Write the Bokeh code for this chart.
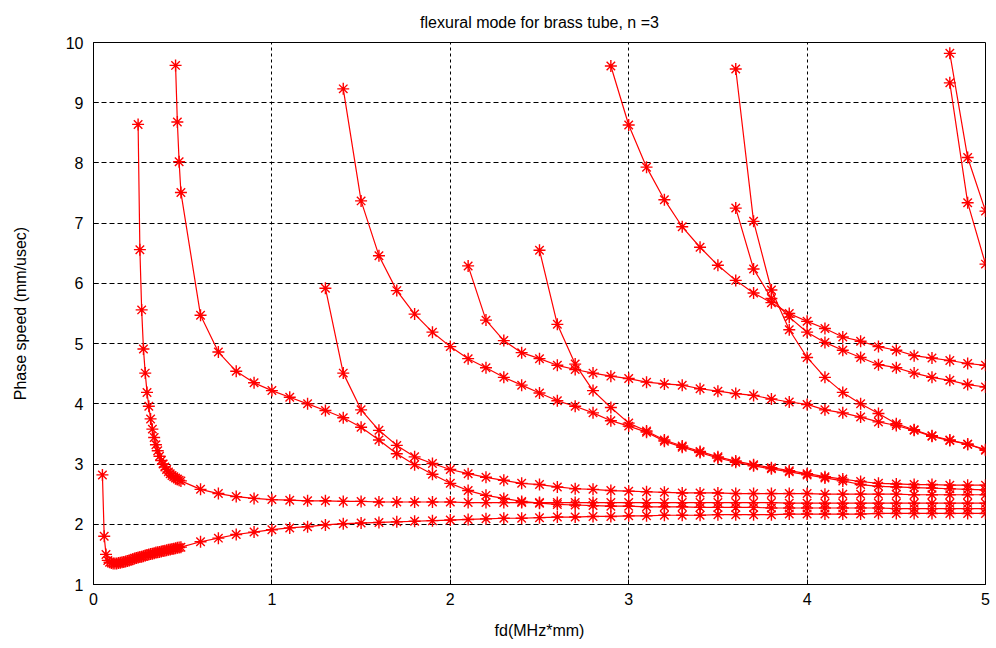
from bokeh.plotting import figure
from bokeh.models import FixedTicker, Range1d
from bokeh.embed import file_html
from bokeh.resources import INLINE

# ---------------- data ----------------
FD_FINE_M1 = [0.05, 0.06, 0.07, 0.08, 0.09, 0.10, 0.11, 0.12, 0.13, 0.14,
              0.15, 0.16, 0.17, 0.18, 0.19, 0.20, 0.21, 0.22, 0.23, 0.24,
              0.25, 0.26, 0.27, 0.28, 0.29, 0.30, 0.31, 0.32, 0.33, 0.34,
              0.35, 0.36, 0.37, 0.38, 0.39, 0.40, 0.41, 0.42, 0.43, 0.44,
              0.45, 0.46, 0.47, 0.48, 0.49]
FD_FINE_M2 = [0.25, 0.26, 0.27, 0.28, 0.29, 0.30, 0.31, 0.32, 0.33, 0.34,
              0.35, 0.36, 0.37, 0.38, 0.39, 0.40, 0.41, 0.42, 0.43, 0.44,
              0.45, 0.46, 0.47, 0.48, 0.49]
FD_FINE_M3 = [0.46, 0.47, 0.48, 0.49]
FD_COARSE = [0.6, 0.7, 0.8, 0.9, 1.0, 1.1, 1.2, 1.3, 1.4, 1.5,
             1.6, 1.7, 1.8, 1.9, 2.0, 2.1, 2.2, 2.3, 2.4, 2.5,
             2.6, 2.7, 2.8, 2.9, 3.0, 3.1, 3.2, 3.3, 3.4, 3.5,
             3.6, 3.7, 3.8, 3.9, 4.0, 4.1, 4.2, 4.3, 4.4, 4.5,
             4.6, 4.7, 4.8, 4.9, 5.0]

m1_fine = [2.82, 1.80, 1.50, 1.40, 1.37, 1.355, 1.35, 1.35, 1.35, 1.355,
           1.36, 1.37, 1.375, 1.38, 1.39, 1.40, 1.41, 1.42, 1.43, 1.44,
           1.45, 1.455, 1.46, 1.47, 1.48, 1.49, 1.50, 1.505, 1.51, 1.52,
           1.53, 1.535, 1.54, 1.55, 1.555, 1.56, 1.57, 1.575, 1.58, 1.59,
           1.595, 1.60, 1.61, 1.615, 1.62]
m1_coarse = [1.71, 1.77, 1.83, 1.87, 1.91, 1.94, 1.96, 1.99, 2.01, 2.02,
             2.03, 2.04, 2.05, 2.06, 2.07, 2.08, 2.09, 2.10, 2.10, 2.11,
             2.12, 2.12, 2.13, 2.13, 2.14, 2.14, 2.15, 2.15, 2.15, 2.16,
             2.16, 2.16, 2.16, 2.17, 2.17, 2.17, 2.17, 2.17, 2.18, 2.18,
             2.18, 2.18, 2.18, 2.18, 2.18]

m2_fine = [8.64, 6.56, 5.56, 4.91, 4.51, 4.19, 3.96, 3.75, 3.58, 3.44,
           3.32, 3.22, 3.13, 3.06, 3.00, 2.95, 2.91, 2.87, 2.84, 2.81,
           2.79, 2.77, 2.75, 2.73, 2.72]
m2_coarse = [2.58, 2.51, 2.46, 2.43, 2.41, 2.40, 2.39, 2.39, 2.38, 2.38,
             2.37, 2.37, 2.37, 2.37, 2.37, 2.36, 2.36, 2.36, 2.36, 2.36,
             2.36, 2.36, 2.36, 2.36, 2.36, 2.36, 2.36, 2.36, 2.36, 2.36,
             2.36, 2.36, 2.36, 2.35, 2.35, 2.35, 2.35, 2.35, 2.35, 2.35,
             2.35, 2.35, 2.35, 2.35, 2.35]

m3_fine = [9.62, 8.68, 8.02, 7.51]
m3_coarse = [5.47, 4.86, 4.54, 4.35, 4.22, 4.11, 4.00, 3.89, 3.77, 3.61,
             3.40, 3.17, 2.99, 2.83, 2.68, 2.56, 2.48, 2.43, 2.38, 2.35,
             2.33, 2.32, 2.31, 2.30, 2.30, 2.29, 2.29, 2.29, 2.28, 2.28,
             2.28, 2.28, 2.27, 2.27, 2.27, 2.27, 2.27, 2.27, 2.27, 2.26,
             2.26, 2.26, 2.26, 2.26, 2.26]

# modes that start inside the coarse grid: (first fd, phase speeds)
m4_fd0, m4_v = 1.3, [5.92, 4.51, 3.90, 3.56, 3.31, 3.12, 3.01, 2.91, 2.84, 2.78,
                     2.73, 2.68, 2.66, 2.62, 2.59, 2.58, 2.56, 2.55, 2.54, 2.53,
                     2.52, 2.52, 2.52, 2.51, 2.51, 2.51, 2.51, 2.51, 2.50, 2.50,
                     2.50, 2.50, 2.50, 2.49, 2.49, 2.49, 2.49, 2.49]
m5_fd0, m5_v = 1.4, [9.23, 7.37, 6.46, 5.88, 5.49, 5.19, 4.95, 4.75, 4.60, 4.44,
                     4.31, 4.18, 4.05, 3.96, 3.85, 3.72, 3.63, 3.53, 3.38, 3.28,
                     3.19, 3.10, 3.03, 2.97, 2.92, 2.87, 2.82, 2.77, 2.72, 2.66,
                     2.63, 2.62, 2.61, 2.60, 2.59, 2.58, 2.57]
m6_fd0, m6_v = 2.1, [6.29, 5.39, 5.05, 4.85, 4.75, 4.64, 4.57, 4.51, 4.46, 4.42,
                     4.36, 4.33, 4.31, 4.25, 4.21, 4.17, 4.14, 4.08, 4.03, 3.99,
                     3.90, 3.85, 3.78, 3.70, 3.64, 3.56, 3.46, 3.39, 3.33, 3.24]
m7_fd0, m7_v = 2.5, [6.55, 5.32, 4.66, 4.22, 3.94, 3.68,
                     3.55, 3.40, 3.30, 3.21, 3.12, 3.05, 2.99, 2.94, 2.89, 2.84,
                     2.79, 2.75, 2.71, 2.68, 2.67, 2.66, 2.66, 2.65, 2.65, 2.65]
m8_fd0, m8_v = 2.9, [9.61, 8.63, 7.93, 7.39, 6.94, 6.60, 6.30, 6.05, 5.84, 5.68,
                     5.50, 5.37, 5.25, 5.11, 5.04, 4.95, 4.89, 4.80, 4.76, 4.72,
                     4.67, 4.64]
m9_fd0, m9_v = 3.6, [9.56, 7.03, 5.89, 5.23, 4.77, 4.44, 4.19, 4.00, 3.84, 3.67,
                     3.57, 3.47, 3.40, 3.33, 3.23]
m10_fd0, m10_v = 3.6, [7.25, 6.24, 5.75, 5.44, 5.19, 5.02, 4.89, 4.77, 4.65, 4.60,
                       4.51, 4.44, 4.39, 4.32, 4.28]
m11_fd0, m11_v = 4.8, [9.82, 8.09, 7.20]
m12_fd0, m12_v = 4.8, [9.33, 7.34, 6.32]

X_TICKS = [0, 1, 2, 3, 4, 5]
Y_TICKS = [1, 2, 3, 4, 5, 6, 7, 8, 9, 10]

# ---------------- build series ----------------
def coarse_from(fd0, vals):
    i = min(range(len(FD_COARSE)), key=lambda k: abs(FD_COARSE[k] - fd0))
    xs = FD_COARSE[i:i + len(vals)]
    return xs, vals[:len(xs)]

series = [
    (FD_FINE_M1 + FD_COARSE, m1_fine + m1_coarse),
    (FD_FINE_M2 + FD_COARSE, m2_fine + m2_coarse),
    (FD_FINE_M3 + FD_COARSE, m3_fine + m3_coarse),
]
for fd0, vals in [(m4_fd0, m4_v), (m5_fd0, m5_v), (m6_fd0, m6_v), (m7_fd0, m7_v),
                  (m8_fd0, m8_v), (m9_fd0, m9_v), (m10_fd0, m10_v),
                  (m11_fd0, m11_v), (m12_fd0, m12_v)]:
    series.append(coarse_from(fd0, vals))

FONT = "Liberation Sans"

p = figure(width=996, height=648, x_range=Range1d(0, 5), y_range=Range1d(1, 10),
           output_backend="svg", toolbar_location=None,
           min_border_left=93, min_border_right=11, min_border_top=42,
           min_border_bottom=64,
           title="flexural mode for brass tube, n =3")
p.title.align = "center"
p.title.text_font = FONT
p.title.text_font_size = "16px"
p.title.text_font_style = "normal"
p.title.text_color = "black"
p.title.standoff = 23

p.background_fill_color = "white"
p.border_fill_color = "white"
p.outline_line_color = "black"
p.outline_line_width = 1
p.outline_line_alpha = 1

for ax in (p.xaxis[0], p.yaxis[0]):
    ax.axis_line_color = "black"
    ax.major_tick_line_color = "black"
    ax.major_tick_in = 5
    ax.major_tick_out = 0
    ax.minor_tick_line_color = None
    ax.major_label_text_font = FONT
    ax.major_label_text_font_size = "16px"
    ax.major_label_text_color = "black"
    ax.axis_label_text_font = FONT
    ax.axis_label_text_font_size = "16px"
    ax.axis_label_text_font_style = "normal"
    ax.axis_label_text_color = "black"

p.xaxis.ticker = FixedTicker(ticks=X_TICKS)
p.yaxis.ticker = FixedTicker(ticks=Y_TICKS)
p.xaxis.axis_label = "fd(MHz*mm)"
p.yaxis.axis_label = "Phase speed (mm/usec)"
p.xaxis.major_label_standoff = 8
p.xaxis.axis_label_standoff = 14
p.yaxis.major_label_standoff = 10
p.yaxis.axis_label_standoff = 34

p.xgrid.grid_line_color = "black"
p.xgrid.grid_line_dash = "3 3"
p.xgrid.grid_line_alpha = 1
p.ygrid.grid_line_color = "black"
p.ygrid.grid_line_dash = "5 3"
p.ygrid.grid_line_alpha = 1

for xs, ys in series:
    p.line(xs, ys, line_color="#ff0000", line_width=1.2)
    p.scatter(xs, ys, marker="asterisk", size=12, line_color="#ff0000", line_width=1.4)

open("out.html", "w").write(file_html(p, INLINE))
